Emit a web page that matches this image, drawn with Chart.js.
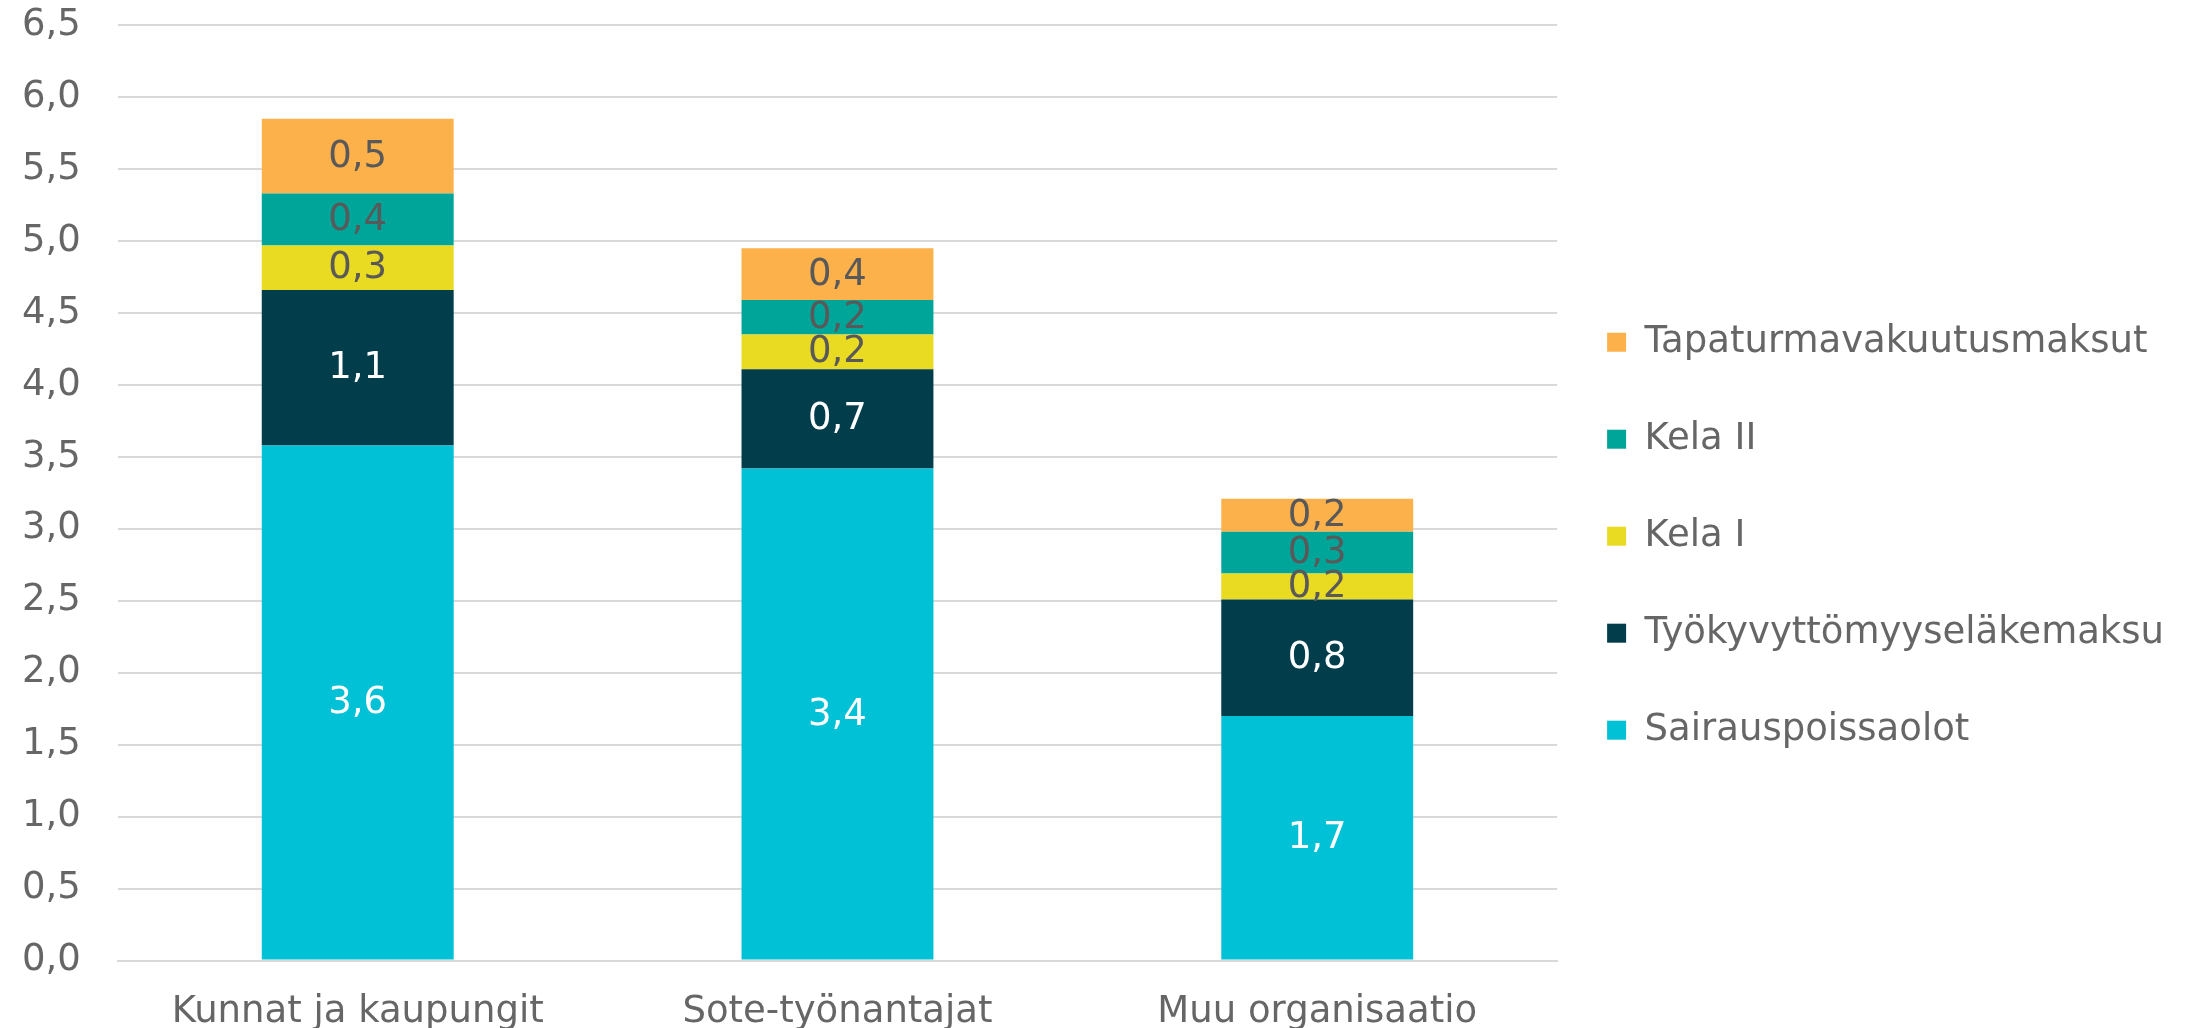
<!DOCTYPE html>
<html lang="fi">
<head>
<meta charset="utf-8">
<title>Kustannukset organisaatioittain</title>
<script src="https://cdn.jsdelivr.net/npm/chart.js@4/dist/chart.umd.min.js"></script>
<style>
  html, body { margin: 0; padding: 0; background: #fff; }
  #wrap { width: 2193px; height: 1028px; }
</style>
</head>
<body>
<div id="wrap"><canvas id="kulutChart" width="2193" height="1028"></canvas></div>
<script>
  // Organisaatiot x-akselilla
  const organisaatiot = ['Kunnat ja kaupungit', 'Sote-työnantajat', 'Muu organisaatio'];

  // Sarjojen arvot (pinotaan alhaalta ylös)
  const sairauspoissaolot = [3.58, 3.42, 1.70];
  const tyokyvyttomyys = [1.08, 0.69, 0.81];
  const kelaI = [0.31, 0.24, 0.18];
  const kelaII = [0.36, 0.24, 0.29];
  const tapaturma = [0.52, 0.36, 0.23];

  // Sarjojen nimet samassa järjestyksessä
  const sarjaNimet = ['Sairauspoissaolot', 'Työkyvyttömyyseläkemaksu', 'Kela I', 'Kela II', 'Tapaturmavakuutusmaksut'];

  // y-akselin asteikko
  const yMin = 0;
  const yMax = 6.5;
  const yStep = 0.5;

  const fontti = '"DejaVu Sans", Verdana, sans-serif';
  const koko = 37;
  const harmaa = '#666666';

  // Desimaalipilkku suomalaiseen tapaan
  function muotoile(arvo) {
    return Number(arvo).toFixed(1).replace('.', ',');
  }

  const varit = ['#00c1d5', '#023d4c', '#e9da22', '#00a59a', '#fdb14a'];
  const tekstiVarit = ['#ffffff', '#ffffff', '#595959', '#595959', '#595959'];
  const arvot = [sairauspoissaolot, tyokyvyttomyys, kelaI, kelaII, tapaturma];

  // Arvot pylväiden sisään (datalabels-lisäosaa ei ole käytössä)
  const arvoTekstit = {
    id: 'arvoTekstit',
    afterDatasetsDraw(chart) {
      const ctx = chart.ctx;
      ctx.save();
      ctx.font = koko + 'px ' + fontti;
      ctx.textAlign = 'center';
      ctx.textBaseline = 'middle';
      chart.data.datasets.forEach((ds, i) => {
        const meta = chart.getDatasetMeta(i);
        if (meta.hidden) return;
        meta.data.forEach((bar, j) => {
          const p = bar.getProps(['x', 'y', 'base'], true);
          ctx.fillStyle = tekstiVarit[i];
          ctx.fillText(muotoile(ds.data[j]), p.x, (p.y + p.base) / 2 + 1);
        });
      });
      ctx.restore();
    }
  };

  const ctx = document.getElementById('kulutChart').getContext('2d');
  new Chart(ctx, {
    type: 'bar',
    data: {
      labels: organisaatiot,
      datasets: sarjaNimet.map((nimi, i) => ({
        label: nimi,
        data: arvot[i],
        backgroundColor: varit[i],
        borderWidth: 0,
        barPercentage: 0.4,
        categoryPercentage: 1
      }))
    },
    options: {
      responsive: false,
      animation: false,
      layout: {
        padding: { left: 19, right: 19, top: 0, bottom: -10 }
      },
      plugins: {
        tooltip: { enabled: false },
        legend: {
          position: 'right',
          reverse: true,
          maxWidth: 700,
          title: {
            display: true,
            text: '',
            font: { size: 12 },
            padding: { top: 15, bottom: 15 }
          },
          labels: {
            boxWidth: 19,
            boxHeight: 19,
            padding: 50,
            color: harmaa,
            font: { family: fontti, size: koko, lineHeight: 1.27 },
            generateLabels: function(chart) {
              const items = Chart.defaults.plugins.legend.labels.generateLabels(chart);
              // taulukkona, jotta rivikorkeus ratkaisee välistyksen
              items.forEach(it => { it.text = [it.text]; it.lineWidth = 0; });
              return items;
            }
          }
        }
      },
      scales: {
        x: {
          stacked: true,
          grid: { display: false, drawTicks: true, tickLength: 27 },
          border: { display: true, color: '#d9d9d9', width: 2 },
          ticks: {
            color: harmaa,
            padding: 3,
            font: { family: fontti, size: koko }
          }
        },
        y: {
          stacked: true,
          min: yMin,
          max: yMax,
          grid: { color: '#d9d9d9', lineWidth: 2, drawTicks: true, tickLength: 34, tickColor: 'rgba(0,0,0,0)' },
          border: { display: false },
          ticks: {
            stepSize: yStep,
            color: harmaa,
            padding: 3,
            font: { family: fontti, size: koko },
            callback: function(value) {
              return muotoile(value);
            }
          }
        }
      }
    },
    plugins: [arvoTekstit]
  });
</script>
</body>
</html>
